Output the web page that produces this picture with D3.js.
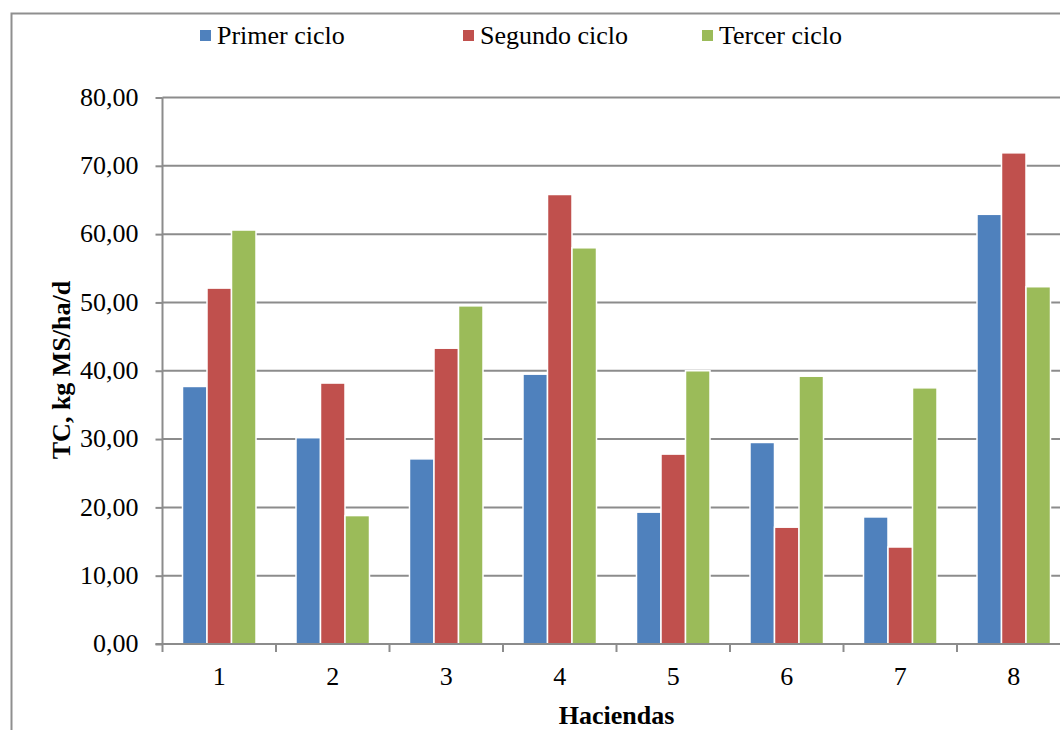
<!DOCTYPE html>
<html>
<head>
<meta charset="utf-8">
<script src="https://cdn.jsdelivr.net/npm/d3@7"></script>
<style>
  html, body { margin: 0; padding: 0; background: #ffffff; }
  svg { display: block; }
  svg text { font-family: "Liberation Serif", "Times New Roman", serif; fill: #000; }
</style>
</head>
<body>
<svg id="chart" width="1060" height="730"></svg>
<script>
// Haciendas (categories) and TC values for each grazing cycle
const haciendas = ["1", "2", "3", "4", "5", "6", "7", "8"];
const seriesNames = ["Primer ciclo", "Segundo ciclo", "Tercer ciclo"];
const primerCiclo  = [37.7, 30.2, 27.1, 39.5, 19.3, 29.5, 18.6, 62.9];
const segundoCiclo = [52.1, 38.2, 43.3, 65.8, 27.8, 17.1, 14.2, 71.9];
const tercerCiclo  = [60.6, 18.8, 49.5, 58.0, 40.0, 39.2, 37.5, 52.3];
const yTicks = [0, 10, 20, 30, 40, 50, 60, 70, 80];
const colors = ["#4F81BD", "#C0504D", "#9BBB59"];

const FONT = "'Liberation Serif', 'Times New Roman', serif";

const seriesValues = [primerCiclo, segundoCiclo, tercerCiclo];
const rows = haciendas.map((h, i) => ({
  hacienda: h,
  values: seriesNames.map((s, k) => ({ serie: s, value: seriesValues[k][i] }))
}));

const svg = d3.select("#chart").attr("font-family", FONT);
const gridColor = "#8c8c8c";

// outer chart frame (continues past the right and bottom edges)
svg.append("rect")
  .attr("x", 11.5).attr("y", 13.5)
  .attr("width", 1100).attr("height", 800)
  .attr("fill", "none")
  .attr("stroke", "#8f8f8f")
  .attr("stroke-width", 2);

const plotLeft = 162.5, plotRight = 1070.5, plotTop = 97.5, plotBottom = 644;

const x0 = d3.scaleBand().domain(haciendas).range([plotLeft, plotRight]).padding(0);
const x1 = d3.scaleBand().domain(seriesNames)
  .range([0, x0.bandwidth()]).paddingInner(0).paddingOuter(0.816);
const y = d3.scaleLinear().domain([0, 80]).range([plotBottom, plotTop]);

// horizontal gridlines
svg.append("g")
  .selectAll("line")
  .data(yTicks.filter(d => d > 0))
  .join("line")
  .attr("x1", plotLeft).attr("x2", plotRight)
  .attr("y1", d => y(d)).attr("y2", d => y(d))
  .attr("stroke", gridColor)
  .attr("stroke-width", 2);

// bars
const groups = svg.append("g")
  .selectAll("g")
  .data(rows)
  .join("g")
  .attr("transform", d => `translate(${x0(d.hacienda)},0)`);

groups.selectAll("rect")
  .data(d => d.values)
  .join("rect")
  .attr("x", d => x1(d.serie))
  .attr("y", d => y(d.value))
  .attr("width", x1.bandwidth())
  .attr("height", d => plotBottom - y(d.value))
  .attr("fill", (d, i) => colors[i])
  .attr("stroke", "#ffffff")
  .attr("stroke-width", 1.5);

// y axis
const yAxis = d3.axisLeft(y)
  .tickValues(yTicks)
  .tickSize(7)
  .tickPadding(17)
  .tickFormat(d => d3.format(".2f")(d).replace(".", ","));

const gy = svg.append("g")
  .attr("transform", `translate(${plotLeft},0)`)
  .call(yAxis)
  .attr("font-family", FONT)
  .attr("font-size", 26);
gy.select(".domain").attr("stroke", gridColor).attr("stroke-width", 2)
  .attr("d", `M0,${plotTop}V${plotBottom}`);
gy.selectAll(".tick line").attr("stroke", gridColor).attr("stroke-width", 2);
gy.selectAll(".tick text")
  .attr("font-family", FONT)
  .attr("font-size", 26)
  .attr("dy", "0.3em");

// x axis with ticks on category boundaries
const gx = svg.append("g")
  .attr("transform", `translate(0,${plotBottom})`);
gx.append("line")
  .attr("x1", plotLeft - 7).attr("x2", plotRight)
  .attr("y1", 0).attr("y2", 0)
  .attr("stroke", gridColor).attr("stroke-width", 2);
gx.selectAll(".bound")
  .data(haciendas)
  .join("line")
  .attr("class", "bound")
  .attr("x1", d => x0(d)).attr("x2", d => x0(d))
  .attr("y1", 0).attr("y2", 8)
  .attr("stroke", gridColor).attr("stroke-width", 2);
gx.selectAll(".cat")
  .data(haciendas)
  .join("text")
  .attr("class", "cat")
  .attr("x", d => x0(d) + x0.bandwidth() / 2)
  .attr("y", 41)
  .attr("text-anchor", "middle")
  .attr("font-family", FONT)
  .attr("font-size", 26)
  .text(d => d);

// axis titles
svg.append("text")
  .attr("x", (plotLeft + plotRight) / 2)
  .attr("y", 724)
  .attr("text-anchor", "middle")
  .attr("font-family", FONT)
  .attr("font-size", 26)
  .attr("font-weight", "bold")
  .text("Haciendas");

svg.append("text")
  .attr("transform", "translate(70,370) rotate(-90)")
  .attr("text-anchor", "middle")
  .attr("font-family", FONT)
  .attr("font-size", 26)
  .attr("font-weight", "bold")
  .text("TC, kg MS/ha/d");

// legend
const legendX = [200, 463, 702];
const legend = svg.append("g")
  .selectAll("g")
  .data(seriesNames)
  .join("g")
  .attr("transform", (d, i) => `translate(${legendX[i]},0)`);
legend.append("rect")
  .attr("x", 0).attr("y", 30)
  .attr("width", 11).attr("height", 11)
  .attr("fill", (d, i) => colors[i]);
legend.append("text")
  .attr("x", 17).attr("y", 43.5)
  .attr("font-family", FONT)
  .attr("font-size", 26)
  .text(d => d);
</script>
</body>
</html>
